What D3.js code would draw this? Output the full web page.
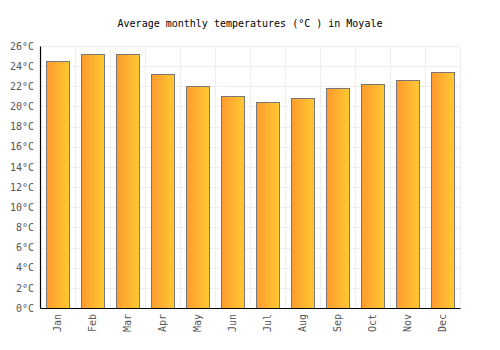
<!DOCTYPE html>
<html>
<head>
<meta charset="utf-8">
<script src="https://cdn.jsdelivr.net/npm/d3@7"></script>
<style>
  body { margin: 0; background: #fff; }
  svg { display: block; }
</style>
</head>
<body>
<div class="chart"></div>
<script>
const months = ["Jan", "Feb", "Mar", "Apr", "May", "Jun", "Jul", "Aug", "Sep", "Oct", "Nov", "Dec"];
const temps = [24.5, 25.2, 25.2, 23.2, 22.0, 21.0, 20.4, 20.8, 21.8, 22.2, 22.6, 23.4];
const yTicks = [0, 2, 4, 6, 8, 10, 12, 14, 16, 18, 20, 22, 24, 26];
const title = "Average monthly temperatures (°C ) in Moyale";

const width = 500, height = 350;
const margin = {top: 46, right: 40, bottom: 42, left: 40};
const fontFam = "'DejaVu Sans Mono', monospace";

const svg = d3.select(".chart").append("svg")
    .attr("width", width)
    .attr("height", height);

const defs = svg.append("defs");
const grad = defs.append("linearGradient")
    .attr("id", "barGrad")
    .attr("x1", "0%").attr("x2", "100%")
    .attr("y1", "0%").attr("y2", "0%");
grad.append("stop").attr("offset", "0%").attr("stop-color", "#ff9a2e");
grad.append("stop").attr("offset", "100%").attr("stop-color", "#ffc933");

const x = d3.scaleBand()
    .domain(months)
    .range([margin.left, width - margin.right])
    .paddingInner(0.34)
    .paddingOuter(0.17);

const y = d3.scaleLinear()
    .domain([0, 26])
    .range([height - margin.bottom, margin.top]);

// grid
const grid = svg.append("g");
grid.selectAll("line.h")
    .data(yTicks)
    .enter().append("line")
    .attr("x1", margin.left).attr("x2", width - margin.right)
    .attr("y1", d => Math.round(y(d)) + 0.5).attr("y2", d => Math.round(y(d)) + 0.5)
    .attr("stroke", "#eeeeee");

const step = x.step();
grid.selectAll("line.v")
    .data(months)
    .enter().append("line")
    .attr("x1", d => Math.round(x(d) - x.paddingOuter() * step + step) + 0.5)
    .attr("x2", d => Math.round(x(d) - x.paddingOuter() * step + step) + 0.5)
    .attr("y1", margin.top).attr("y2", height - margin.bottom)
    .attr("stroke", "#eeeeee");

// bars
svg.selectAll("rect.bar")
    .data(temps)
    .enter().append("rect")
    .attr("class", "bar")
    .attr("x", (d, i) => Math.round(x(months[i])) + 0.5)
    .attr("y", d => Math.round(y(d)) + 0.5)
    .attr("width", Math.round(x.bandwidth()))
    .attr("height", d => Math.round(y(0)) - Math.round(y(d)))
    .attr("fill", "url(#barGrad)")
    .attr("stroke", "#777777")
    .attr("stroke-width", 1);

// y axis
const yAxis = svg.append("g")
    .attr("transform", `translate(${margin.left},0)`)
    .call(d3.axisLeft(y).tickValues(yTicks).tickSize(0).tickPadding(6).tickFormat(d => d + "°C"));
yAxis.select(".domain").attr("stroke", "#000").attr("stroke-width", 1.2);
yAxis.selectAll("text")
    .attr("fill", "#555")
    .style("font-family", fontFam)
    .style("font-size", "10px");

// x axis
const xAxis = svg.append("g")
    .attr("transform", `translate(0,${height - margin.bottom})`)
    .call(d3.axisBottom(x).tickSize(0).tickPadding(8));
xAxis.select(".domain").attr("stroke", "#000").attr("stroke-width", 1.2);
xAxis.selectAll("text")
    .attr("fill", "#555")
    .style("font-family", fontFam)
    .style("font-size", "10px")
    .attr("transform", "rotate(-90)")
    .attr("text-anchor", "end")
    .attr("dy", "0.35em")
    .attr("x", -6)
    .attr("y", 0);

// title
svg.append("text")
    .attr("x", width / 2)
    .attr("y", 27)
    .attr("text-anchor", "middle")
    .style("font-family", fontFam)
    .style("font-size", "10px")
    .attr("fill", "#000")
    .text(title);
</script>
</body>
</html>
